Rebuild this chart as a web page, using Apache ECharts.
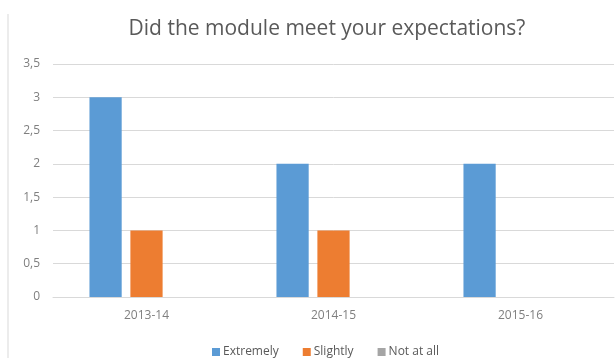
<!DOCTYPE html>
<html>
<head>
<meta charset="utf-8">
<script src="https://cdn.jsdelivr.net/npm/echarts@6/dist/echarts.min.js"></script>
<style>html,body{margin:0;padding:0;background:#fff;}#c{width:616px;height:358px;}</style>
</head>
<body>
<div id="c"></div>
<script>
const categories = ['2013-14', '2014-15', '2015-16'];
const extremely = [3, 2, 2];
const slightly = [1, 1, 0];
const notAtAll = [0, 0, 0];
const seriesNames = ['Extremely', 'Slightly', 'Not at all'];
const titleText = 'Did the module meet your expectations?';

const chart = echarts.init(document.getElementById('c'), null, {renderer: 'canvas'});
const font = '"Open Sans", "Noto Sans", sans-serif';
chart.setOption({
  animation: false,
  backgroundColor: '#ffffff',
  color: ['#5B9BD5', '#ED7D31', '#A5A5A5'],
  title: {
    text: titleText,
    left: 322, top: 14, textAlign: 'center',
    textStyle: {fontFamily: font, fontSize: 21, fontWeight: 'normal', color: '#595959'}
  },
  legend: {
    data: seriesNames,
    left: 207, top: 341,
    itemWidth: 8, itemHeight: 8, itemGap: 24,
    icon: 'rect',
    textStyle: {fontFamily: font, fontSize: 12, color: '#595959', padding: [0, 0, 0, -2]}
  },
  grid: {left: 53, right: 2, top: 64, bottom: 61, containLabel: false},
  xAxis: {
    type: 'category', data: categories,
    axisLine: {lineStyle: {color: '#d9d9d9'}},
    axisTick: {show: false},
    axisLabel: {fontFamily: font, fontSize: 12, color: '#7f7f7f', margin: 13}
  },
  yAxis: {
    type: 'value', min: 0, max: 3.5, interval: 0.5,
    axisLine: {show: false}, axisTick: {show: false},
    splitLine: {lineStyle: {color: '#d9d9d9'}},
    axisLabel: {fontFamily: font, fontSize: 12, color: '#7f7f7f', margin: 13,
      formatter: v => String(v).replace('.', ',')}
  },
  graphic: [{
    type: 'line', shape: {x1: 8, y1: 14, x2: 8, y2: 358},
    style: {stroke: '#d9d9d9', lineWidth: 1}
  }],
  series: [
    {name: seriesNames[0], type: 'bar', data: extremely, barGap: '27%', barCategoryGap: '39%'},
    {name: seriesNames[1], type: 'bar', data: slightly, barGap: '27%', barCategoryGap: '39%'},
    {name: seriesNames[2], type: 'bar', data: notAtAll, barGap: '27%', barCategoryGap: '39%'}
  ]
});
</script>
</body>
</html>
